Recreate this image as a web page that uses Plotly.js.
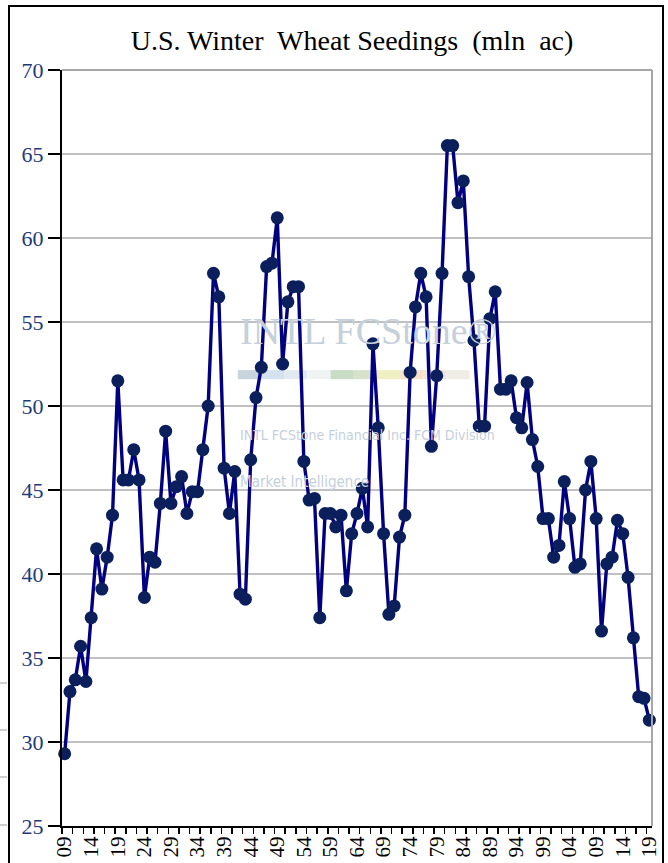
<!DOCTYPE html>
<html>
<head>
<meta charset="utf-8">
<script src="https://cdn.plot.ly/plotly-3.0.1.min.js"></script>
<style>
html,body{margin:0;padding:0;background:#fff;}
#chart{width:668px;height:863px;}
#frame{position:absolute;left:8px;top:5px;width:652px;height:870px;border:2px solid #000;pointer-events:none;}
</style>
</head>
<body>
<div id="chart"></div>
<div id="frame"></div>
<script>
const years = [1909,1910,1911,1912,1913,1914,1915,1916,1917,1918,1919,1920,1921,1922,1923,1924,1925,1926,1927,1928,1929,1930,1931,1932,1933,1934,1935,1936,1937,1938,1939,1940,1941,1942,1943,1944,1945,1946,1947,1948,1949,1950,1951,1952,1953,1954,1955,1956,1957,1958,1959,1960,1961,1962,1963,1964,1965,1966,1967,1968,1969,1970,1971,1972,1973,1974,1975,1976,1977,1978,1979,1980,1981,1982,1983,1984,1985,1986,1987,1988,1989,1990,1991,1992,1993,1994,1995,1996,1997,1998,1999,2000,2001,2002,2003,2004,2005,2006,2007,2008,2009,2010,2011,2012,2013,2014,2015,2016,2017,2018,2019];
const seedings = [29.3,33.0,33.7,35.7,33.6,37.4,41.5,39.1,41.0,43.5,51.5,45.6,45.6,47.4,45.6,38.6,41.0,40.7,44.2,48.5,44.2,45.2,45.8,43.6,44.9,44.9,47.4,50.0,57.9,56.5,46.3,43.6,46.1,38.8,38.5,46.8,50.5,52.3,58.3,58.5,61.2,52.5,56.2,57.1,57.1,46.7,44.4,44.5,37.4,43.6,43.6,42.8,43.5,39.0,42.4,43.6,45.1,42.8,53.7,48.7,42.4,37.6,38.1,42.2,43.5,52.0,55.9,57.9,56.5,47.6,51.8,57.9,65.5,65.5,62.1,63.4,57.7,53.9,48.8,48.8,55.2,56.8,51.0,51.0,51.5,49.3,48.7,51.4,48.0,46.4,43.3,43.3,41.0,41.7,45.5,43.3,40.4,40.6,45.0,46.7,43.3,36.6,40.6,41.0,43.2,42.4,39.8,36.2,32.7,32.6,31.3];
const tickYears = [1909,1914,1919,1924,1929,1934,1939,1944,1949,1954,1959,1964,1969,1974,1979,1984,1989,1994,1999,2004,2009,2014,2019];
const tickLabels = ["09","14","19","24","29","34","39","44","49","54","59","64","69","74","79","84","89","94","99","04","09","14","19"];
const yTicks = [25,30,35,40,45,50,55,60,65,70];

const trace = {
  x: years, y: seedings, type: 'scatter', mode: 'lines+markers',
  line: {color: '#000080', width: 3.4},
  marker: {color: '#0a1f5c', size: 13},
  cliponaxis: false,
  hoverinfo: 'x+y'
};

const wm = '#c5d0da';
const serif = 'Liberation Serif, Times New Roman, serif';
const narrow = 'Liberation Sans Narrow, DejaVu Sans Condensed, sans-serif';
const barColors = ['#c8d4de','#d3e2ee','#e2eaf0','#f0f3f3','#c9dcc6','#d6e2cc','#eef0c4','#f6e2c8','#ece6dc','#efede6'];
const shapes = [
  {type: 'line', xref: 'paper', yref: 'paper', x0: 0, x1: 1, y0: 1, y1: 1, line: {color: '#a6a6a6', width: 2}},
  {type: 'line', xref: 'paper', yref: 'paper', x0: 1, x1: 1, y0: 0, y1: 1, line: {color: '#a6a6a6', width: 2}}
];
barColors.forEach((c, i) => {
  shapes.push({type: 'rect', xref: 'paper', yref: 'paper', x0: 0.298 + i * 0.0393, x1: 0.298 + (i + 1) * 0.0393,
    y0: 0.591, y1: 0.603, line: {width: 0}, fillcolor: c, layer: 'below'});
});
[683, 730, 777, 825].forEach(py => {
  const yp = (826 - py) / 756;
  shapes.push({type: 'line', xref: 'paper', yref: 'paper', x0: -62/590, x1: -55/590, y0: yp, y1: yp, line: {color: '#bfbfbf', width: 1.5}});
});

const layout = {
  width: 668, height: 863,
  paper_bgcolor: '#fff', plot_bgcolor: '#fff',
  margin: {l: 62, r: 16, t: 70, b: 37},
  showlegend: false,
  title: {text: 'U.S. Winter&nbsp; Wheat Seedings&nbsp; (mln&nbsp; ac)', x: 0.527, xanchor: 'center', y: 0.953, yanchor: 'middle',
          font: {family: serif, size: 28, color: '#000'}},
  xaxis: {
    range: [1908.5, 2019.5], tickmode: 'array', tickvals: tickYears, ticktext: tickLabels,
    tickangle: -90, showgrid: false, zeroline: false,
    showline: true, linecolor: '#000', linewidth: 2, mirror: false,
    ticks: '', ticklen: 0,
    minor: {tickmode: 'linear', tick0: 1908.5, dtick: 2, ticks: 'outside', ticklen: 6, tickcolor: '#000', tickwidth: 1.5, showgrid: false},
    tickfont: {family: serif, size: 21, color: '#000'}
  },
  yaxis: {
    range: [25, 70], tickmode: 'array', tickvals: yTicks,
    showgrid: true, gridcolor: '#c0c0c0', gridwidth: 2, zeroline: false,
    showline: true, linecolor: '#000', linewidth: 2,
    ticks: 'outside', ticklen: 12, tickcolor: '#000', tickwidth: 2,
    tickfont: {family: serif, size: 22, color: '#1f3a7a'}
  },
  shapes: shapes,
  annotations: [
    {text: 'INTL FCStone®', xref: 'paper', yref: 'paper', x: 0.298, y: 0.625, xanchor: 'left', yanchor: 'bottom', showarrow: false,
     font: {family: serif, size: 38, color: wm}},
    {text: 'INTL FCStone Financial Inc. FCM Division', xref: 'paper', yref: 'paper', x: 0.298, y: 0.504, xanchor: 'left', yanchor: 'bottom', showarrow: false,
     font: {family: narrow, size: 14, color: wm}},
    {text: 'Market Intelligence', xref: 'paper', yref: 'paper', x: 0.298, y: 0.44, xanchor: 'left', yanchor: 'bottom', showarrow: false,
     font: {family: narrow, size: 15, color: wm}}
  ]
};

Plotly.newPlot('chart', [trace], layout, {displayModeBar: false, staticPlot: true});
</script>
</body>
</html>
